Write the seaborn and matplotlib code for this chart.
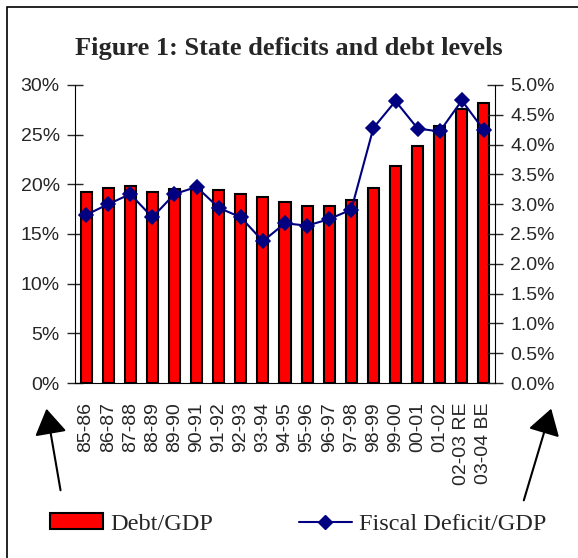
import numpy as np
import pandas as pd
import matplotlib
matplotlib.use('Agg')
import matplotlib.pyplot as plt
import seaborn as sns
from matplotlib.patches import Rectangle, Patch, FancyArrowPatch
from matplotlib.lines import Line2D
from matplotlib.ticker import PercentFormatter, FixedLocator, NullFormatter

years = ['85-86', '86-87', '87-88', '88-89', '89-90', '90-91', '91-92', '92-93',
         '93-94', '94-95', '95-96', '96-97', '97-98', '98-99', '99-00', '00-01',
         '01-02', '02-03 RE', '03-04 BE']
debt_gdp = [19.2, 19.6, 19.8, 19.2, 19.5, 19.6, 19.4, 19.0, 18.7, 18.2,
            17.8, 17.8, 18.4, 19.6, 21.8, 23.9, 25.9, 27.6, 28.2]
deficit_gdp = [2.82, 3.00, 3.17, 2.78, 3.17, 3.29, 2.94, 2.78, 2.38, 2.68,
               2.64, 2.75, 2.91, 4.28, 4.73, 4.27, 4.22, 4.74, 4.24]
left_ticks = [0, 5, 10, 15, 20, 25, 30]
right_ticks = [0, 0.5, 1.0, 1.5, 2.0, 2.5, 3.0, 3.5, 4.0, 4.5, 5.0]

df = pd.DataFrame({'year': years, 'debt': debt_gdp, 'deficit': deficit_gdp})

sns.set_style('white')
plt.rcParams['font.family'] = ['Liberation Sans', 'DejaVu Sans']
serif = ['Liberation Serif', 'DejaVu Serif']

W, H = 578, 558
fig = plt.figure(figsize=(W / 100, H / 100), dpi=100)
ax = fig.add_axes([75 / W, 1 - 383 / H, 420 / W, 298 / H])

sns.barplot(data=df, x='year', y='debt', ax=ax, color='#ff0000', width=0.5,
            edgecolor='black', linewidth=1.5, saturation=1)
ax.set_ylim(0, 30)
ax.set_xlim(-0.5, len(years) - 0.5)
ax.set_yticks(left_ticks)
ax.yaxis.set_major_formatter(PercentFormatter(decimals=0))
ax.set_xlabel('')
ax.set_ylabel('')

ax2 = ax.twinx()
sns.pointplot(data=df, x='year', y='deficit', ax=ax2, color='#000080',
              markers='D', markersize=7, linewidth=1.5)
ax2.set_ylim(0, 5)
ax2.set_xlim(-0.5, len(years) - 0.5)
ax2.set_yticks(right_ticks)
ax2.yaxis.set_major_formatter(PercentFormatter(decimals=1))
ax2.set_ylabel('')
ax2.set_xlabel('')

for a in (ax, ax2):
    a.spines['top'].set_visible(False)
    for s in ('left', 'right', 'bottom'):
        a.spines[s].set_color('black')
ax.spines['right'].set_visible(False)
ax2.spines['left'].set_visible(False)
ax2.spines['bottom'].set_visible(False)

ax.tick_params(axis='y', direction='inout', length=12, width=1, labelsize=14, pad=5)
ax2.tick_params(axis='y', direction='inout', length=12, width=1, labelsize=14, pad=5)

# category labels at centres, tick marks between categories
ax.tick_params(axis='x', which='major', length=0, labelsize=14, labelrotation=90, pad=14)
ax.xaxis.set_minor_locator(FixedLocator(np.arange(-0.5, len(years), 1.0)))
ax.xaxis.set_minor_formatter(NullFormatter())
ax.tick_params(axis='x', which='minor', direction='inout', length=12, width=1)
ax2.tick_params(axis='x', which='both', length=0, labelbottom=False)

fig.text(0.5, 1 - 48 / H, 'Figure 1: State deficits and debt levels',
         ha='center', va='center', fontsize=19, fontweight='bold', family=serif)

# outer frame
fig.patches.append(Rectangle((7 / W, -0.01), 1.02, 1 - 7 / H + 0.01,
                             transform=fig.transFigure, fill=False,
                             edgecolor='black', linewidth=1.2))

# arrows
for tail, tip in [((61, 493), (46, 406)), ((523, 503), (552, 406))]:
    fig.add_artist(FancyArrowPatch(
        (tail[0] / W, 1 - tail[1] / H), (tip[0] / W, 1 - tip[1] / H),
        transform=fig.transFigure, arrowstyle='-|>,head_length=0.8,head_width=0.5',
        mutation_scale=20, color='black', linewidth=1.5))

handles = [Patch(facecolor='#ff0000', edgecolor='black', linewidth=1.5),
           Line2D([], [], color='#000080', marker='D', markersize=7, linewidth=1.5)]
fig.legend(handles, ['Debt/GDP', 'Fiscal Deficit/GDP'], loc='center left',
           bbox_to_anchor=(50 / W, 1 - 524 / H), ncol=2, frameon=False,
           prop={'family': serif, 'size': 17.5}, handlelength=2.2, handleheight=0.6,
           columnspacing=3.5, handletextpad=0.3, borderpad=0, borderaxespad=0)

fig.savefig('out.png', dpi=100)
